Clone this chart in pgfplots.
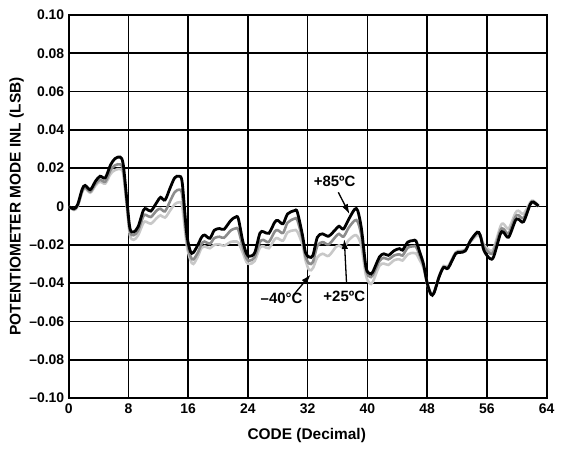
\documentclass[border=0pt]{standalone}
\usepackage{pgfplots}
\pgfplotsset{compat=1.18}
\usepackage{pgfplotstable}
\usepackage{fontspec}
\setmainfont{Liberation Sans}
\usetikzlibrary{arrows.meta}

\definecolor{midgray}{HTML}{8C8C8C}
\definecolor{lightgray}{HTML}{C8C8C8}

% +85 C (black)
\pgfplotstableread{
x y
0 0
0.7 -0.0012
1.2 0.001
1.8 0.009
2.2 0.011
2.9 0.0088
3.6 0.0133
4.2 0.0158
4.9 0.015
5.6 0.0217
6.2 0.025
6.9 0.0258
7.3 0.022
7.8 0.003
8.2 -0.0114
8.7 -0.0133
9.3 -0.0105
10 -0.002
10.4 -0.0012
11 -0.0024
11.8 0.0022
12.3 0.0048
12.9 0.0034
13.6 0.0099
14.2 0.015
14.8 0.0158
15.2 0.0124
15.8 -0.014
16.3 -0.0235
16.7 -0.024
17.3 -0.020
17.8 -0.016
18.2 -0.0149
18.9 -0.0166
19.5 -0.0124
20.2 -0.0115
20.8 -0.0119
21.7 -0.0073
22.3 -0.0056
22.7 -0.0062
23.3 -0.018
23.8 -0.0245
24.2 -0.026
24.9 -0.0242
25.6 -0.014
26.1 -0.0132
26.8 -0.014
27.6 -0.0081
28 -0.0073
28.7 -0.009
29.3 -0.0039
30.2 -0.0022
30.6 -0.0028
31.3 -0.0149
31.7 -0.024
32.2 -0.0264
32.7 -0.0255
33.3 -0.016
34 -0.0143
34.8 -0.0155
35.8 -0.0117
36.2 -0.0103
36.8 -0.0117
37.5 -0.0066
38.3 -0.0014
38.7 -0.0022
39.2 -0.0117
39.8 -0.0316
40.3 -0.035
40.7 -0.0343
41.6 -0.0264
42.2 -0.0247
42.8 -0.0255
43.6 -0.023
44.3 -0.022
44.7 -0.0228
45.4 -0.0186
46.1 -0.0178
46.5 -0.018
47 -0.0238
47.5 -0.030
48 -0.040
48.5 -0.0459
48.9 -0.0453
49.6 -0.0367
50.2 -0.0318
50.8 -0.0322
51.8 -0.0247
52.4 -0.024
53.1 -0.0232
53.8 -0.0178
54.7 -0.0134
55.1 -0.015
55.6 -0.023
56.4 -0.0272
56.9 -0.0262
57.8 -0.0143
58.2 -0.0134
58.9 -0.016
59.8 -0.0074
60.2 -0.0066
60.9 -0.0079
61.8 0.0012
62.2 0.0024
62.9 0.0003
}\hot

% +25 C (mid gray)
\pgfplotstableread{
x y
0 0
0.7 -0.0015
1.2 0.0005
1.8 0.008
2.2 0.010
2.9 0.0078
3.6 0.012
4.2 0.014
4.9 0.013
5.6 0.019
6.2 0.0215
6.9 0.022
7.3 0.019
7.8 0.001
8.2 -0.013
8.7 -0.015
9.3 -0.0125
10 -0.005
10.4 -0.0045
11 -0.0055
11.8 -0.002
12.3 -0.0012
12.9 -0.0025
13.6 0.003
14.2 0.0075
14.8 0.0088
15.2 0.006
15.8 -0.017
16.3 -0.026
16.7 -0.0276
17.3 -0.024
17.8 -0.0195
18.2 -0.0183
18.9 -0.0195
19.5 -0.0165
20.2 -0.0158
20.8 -0.0163
21.7 -0.0125
22.3 -0.0115
22.7 -0.012
23.3 -0.021
23.8 -0.027
24.2 -0.0283
24.9 -0.0265
25.6 -0.0185
26.1 -0.0175
26.8 -0.0185
27.6 -0.013
28 -0.0124
28.7 -0.0138
29.3 -0.0085
30.2 -0.0064
30.6 -0.007
31.3 -0.017
31.7 -0.026
32.2 -0.0298
32.7 -0.029
33.3 -0.0205
34 -0.0186
34.8 -0.0198
35.8 -0.0155
36.2 -0.0143
36.8 -0.0157
37.5 -0.011
38.3 -0.0073
38.7 -0.008
39.2 -0.0155
39.8 -0.033
40.3 -0.0366
40.7 -0.036
41.6 -0.0285
42.2 -0.0268
42.8 -0.0276
43.6 -0.0255
44.3 -0.025
44.7 -0.0256
45.4 -0.0215
46.1 -0.0208
46.5 -0.021
47 -0.0255
47.5 -0.031
48 -0.040
48.5 -0.0455
48.9 -0.045
49.6 -0.0365
50.2 -0.0315
50.8 -0.0318
51.8 -0.0243
52.4 -0.0236
53.1 -0.0228
53.8 -0.018
54.7 -0.0138
55.1 -0.015
55.6 -0.021
56.4 -0.0245
56.9 -0.0235
57.8 -0.0125
58.2 -0.0117
58.9 -0.014
59.8 -0.0055
60.2 -0.0045
60.9 -0.006
61.8 0.0012
62.2 0.002
62.9 0.0
}\room

% -40 C (light gray)
\pgfplotstableread{
x y
0 0
0.7 -0.0018
1.2 0
1.8 0.0075
2.2 0.0095
2.9 0.0072
3.6 0.011
4.2 0.013
4.9 0.012
5.6 0.017
6.2 0.019
6.9 0.0195
7.3 0.017
7.8 -0.001
8.2 -0.015
8.7 -0.0174
9.3 -0.015
10 -0.0085
10.4 -0.008
11 -0.009
11.8 -0.006
12.3 -0.0046
12.9 -0.0058
13.6 -0.002
14.2 0.0012
14.8 0.0022
15.2 0.0
15.8 -0.02
16.3 -0.028
16.7 -0.030
17.3 -0.026
17.8 -0.0215
18.2 -0.0208
18.9 -0.0218
19.5 -0.020
20.2 -0.0198
20.8 -0.0205
21.7 -0.0185
22.3 -0.0183
22.7 -0.0188
23.3 -0.024
23.8 -0.029
24.2 -0.030
24.9 -0.0285
25.6 -0.0215
26.1 -0.0208
26.8 -0.0218
27.6 -0.017
28 -0.0166
28.7 -0.0178
29.3 -0.0135
30.2 -0.0124
30.6 -0.013
31.3 -0.02
31.7 -0.028
32.2 -0.0332
32.7 -0.0322
33.3 -0.0265
34 -0.0247
34.8 -0.0258
35.8 -0.021
36.2 -0.0203
36.8 -0.0215
37.5 -0.0175
38.3 -0.015
38.7 -0.0158
39.2 -0.021
39.8 -0.036
40.3 -0.0401
40.7 -0.0395
41.6 -0.031
42.2 -0.0298
42.8 -0.0305
43.6 -0.028
44.3 -0.0276
44.7 -0.0282
45.4 -0.025
46.1 -0.0242
46.5 -0.0245
47 -0.028
47.5 -0.032
48 -0.0405
48.5 -0.0455
48.9 -0.0448
49.6 -0.0362
50.2 -0.031
50.8 -0.0312
51.8 -0.024
52.4 -0.0232
53.1 -0.0225
53.8 -0.0185
54.7 -0.015
55.1 -0.0158
55.6 -0.02
56.4 -0.023
56.9 -0.0218
57.8 -0.0105
58.2 -0.009
58.9 -0.0115
59.8 -0.0035
60.2 -0.0022
60.9 -0.0038
61.8 0.0022
62.2 0.003
62.9 0.0005
}\cold

\begin{document}
\begin{tikzpicture}
\begin{axis}[
  name=main, at={(0,0)}, anchor=south west,
  scale only axis, width=478bp, height=383bp,
  xmin=0, xmax=64, ymin=-0.1, ymax=0.1,
  xtick={0,8,16,24,32,40,48,56,64},
  xticklabels={0,8,16,24,32,40,48,56,64},
  ytick={-0.1,-0.08,-0.06,-0.04,-0.02,0,0.02,0.04,0.06,0.08,0.1},
  yticklabels={–0.10,–0.08,–0.06,–0.04,–0.02,0,0.02,0.04,0.06,0.08,0.10},
  grid=major,
  major grid style={black, line width=1.6bp},
  axis line style={black, line width=2bp},
  major tick length=0pt,
  ticklabel style={font=\bfseries\fontsize{14}{16}\selectfont},
  xticklabel style={yshift=-2bp},
  yticklabel style={xshift=-1bp},
  xlabel={CODE (Decimal)},
  ylabel={POTENTIOMETER MODE INL (LSB)},
  label style={font=\bfseries\fontsize{15.5}{18}\selectfont},
  xlabel style={at={(axis description cs:0.498,-0.099)}, anchor=center},
  ylabel style={at={(axis description cs:-0.109,0.5)}, anchor=center},
  clip=true,
]
\addplot[lightgray, line width=2.6bp, smooth, tension=0.5] table[x=x,y=y]{\cold};
\addplot[midgray, line width=2.6bp, smooth, tension=0.5] table[x=x,y=y]{\room};
\addplot[black, line width=2.8bp, smooth, tension=0.5] table[x=x,y=y]{\hot};

\node[font=\bfseries\fontsize{15}{17}\selectfont] at (axis cs:35.6,0.0133) {+85ºC};
\draw[line width=1.3bp, -{Latex[length=10bp,width=6.5bp]}] (axis cs:36.1,0.0074) -- (axis cs:37.6,-0.0040);
\node[font=\bfseries\fontsize{15}{17}\selectfont] at (axis cs:36.9,-0.0470) {+25ºC};
\draw[line width=1.3bp, -{Latex[length=10bp,width=6.5bp]}] (axis cs:37.2,-0.0400) -- (axis cs:36.9,-0.0170);
\node[font=\bfseries\fontsize{15}{17}\selectfont] at (axis cs:28.5,-0.0480) {–40°C};
\draw[line width=1.3bp, -{Latex[length=10bp,width=6.5bp]}] (axis cs:30.1,-0.0462) -- (axis cs:32.4,-0.0355);
\node[rotate=90, font=\fontsize{8}{9}\selectfont] at (axis description cs:1.031,0.136) {05029-008};
\end{axis}
\pgfresetboundingbox
\useasboundingbox (-68.7bp,-51bp) rectangle (499.3bp,398bp);
\end{tikzpicture}
\end{document}
